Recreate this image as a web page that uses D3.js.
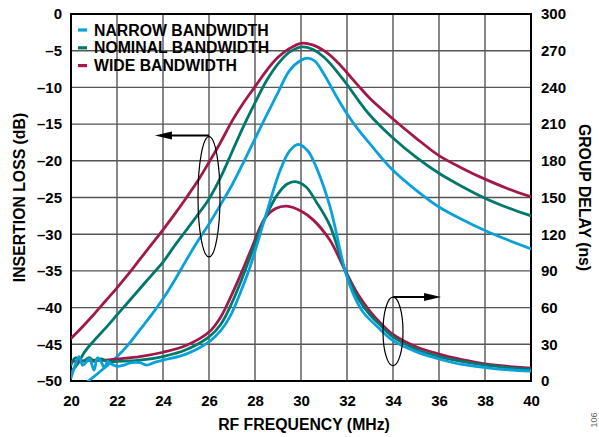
<!DOCTYPE html>
<html>
<head>
<meta charset="utf-8">
<script src="https://cdn.jsdelivr.net/npm/d3@7"></script>
<style>
  html, body { margin: 0; padding: 0; background: #fff; }
  svg text { font-family: "Liberation Sans", Arial, sans-serif; font-weight: bold; fill: #000; }
</style>
</head>
<body>
<svg id="chart" width="599" height="437"></svg>
<script>
// ---------- DATA ----------
const seriesNames = ["NARROW BANDWIDTH", "NOMINAL BANDWIDTH", "WIDE BANDWIDTH"];
const seriesColors = ["#0aa1da", "#00786b", "#a3184b"];

const xTicks = [20, 22, 24, 26, 28, 30, 32, 34, 36, 38, 40];
const yLeftTicks = [0, -5, -10, -15, -20, -25, -30, -35, -40, -45, -50];
const yRightTicks = [0, 30, 60, 90, 120, 150, 180, 210, 240, 270, 300];

// Insertion loss (dB) vs frequency (MHz)
const ilNarrow = [[20.75,-50],[21,-49.4],[21.5,-48.1],[22,-46.7],[22.5,-45.0],[23,-43.0],[23.5,-41.0],[24,-38.8],[24.5,-36.3],[25,-33.6],[25.5,-31.0],[26,-28.6],[26.5,-26.0],[27,-23.3],[27.5,-20.2],[28,-17.0],[28.5,-13.8],[29,-10.7],[29.5,-7.7],[30,-6.3],[30.3,-6.0],[30.6,-6.4],[31,-8.2],[31.5,-11.0],[32,-13.6],[32.5,-15.8],[33,-17.7],[34,-21.3],[35,-24.0],[36,-26.3],[37,-28.0],[38,-29.5],[39,-30.8],[40,-32.0]];
const ilNominal = [[20,-48.8],[20.3,-47.6],[20.6,-46.0],[21,-44.5],[21.5,-42.8],[22,-41.0],[22.5,-39.2],[23,-37.4],[23.5,-35.6],[24,-33.8],[24.5,-31.6],[25,-29.5],[25.5,-27.4],[26,-25.2],[26.5,-22.3],[27,-18.8],[27.5,-15.3],[28,-12.1],[28.5,-9.1],[29,-6.8],[29.5,-5.2],[30,-4.5],[30.5,-4.8],[31,-5.9],[31.5,-7.6],[32,-9.6],[32.5,-11.8],[33,-13.8],[34,-16.9],[35,-19.5],[36,-21.7],[37,-23.5],[38,-25.1],[39,-26.4],[40,-27.5]];
const ilWide = [[20,-44.2],[20.5,-42.6],[21,-40.9],[21.5,-39.1],[22,-37.3],[22.5,-35.4],[23,-33.4],[23.5,-31.4],[24,-29.4],[24.5,-27.3],[25,-25.1],[25.5,-22.8],[26,-20.2],[26.5,-17.5],[27,-14.6],[27.5,-12.1],[28,-9.9],[28.5,-7.7],[29,-5.9],[29.5,-4.7],[30,-4.0],[30.5,-4.2],[31,-5.0],[31.5,-6.3],[32,-8.0],[32.5,-9.8],[33,-11.5],[34,-14.3],[35,-16.9],[36,-19.3],[37,-21.0],[38,-22.5],[39,-23.8],[40,-24.9]];

// Group delay (ns) vs frequency (MHz)
const gdNarrow = [[20,2.5],[20.2,14],[20.35,20],[20.5,13],[20.6,14],[20.8,18],[21,9],[21.15,19],[21.3,16],[21.45,11],[21.6,16],[21.75,14],[22,12],[22.3,13],[22.6,15],[23,15],[23.3,13],[23.6,15],[24,17],[25,22],[26,32],[26.5,41],[26.91,52.6],[27.4,74],[27.78,93],[28.43,133],[29.09,172],[29.5,188],[29.88,193.5],[30.3,188],[30.68,174],[31.26,142.5],[31.91,90.7],[32.3,70],[32.71,56],[33.4,43],[34,33],[35,24],[36,18],[37,13.5],[38,11],[39,9.2],[40,8]];
const gdNominal = [[20,13],[20.2,19],[20.5,16],[20.8,19],[21,16],[21.3,18],[21.6,16],[22,16],[23,17],[24,20],[25,25.5],[26,36],[26.5,46],[26.9,60],[27.4,82],[27.8,102],[28.43,133],[29,153],[29.4,161],[29.74,163],[30.2,159],[30.68,146],[31.26,127],[31.91,90.7],[32.5,67],[33,54],[33.4,46.5],[34,36],[35,26],[36,20],[37,16],[38,13],[39,11],[40,9.5]];
const gdWide = [[20,16],[20.5,16.5],[21,17],[21.5,17],[22,18],[23,20],[24,23.5],[25,29],[26,40],[26.5,52],[26.9,67],[27.4,88],[27.8,106],[28.43,133],[28.9,141],[29.38,143],[30,139],[30.54,131.5],[31.26,115],[31.91,90.7],[32.5,70],[33,57],[33.4,48.5],[34,38],[35,28],[36,22],[37,17.5],[38,14],[39,12],[40,10.5]];

// ---------- LAYOUT ----------
const svg = d3.select("#chart");
const m = { left: 71, top: 14, right: 68, bottom: 56 };
const W = 599 - m.left - m.right;   // 460
const H = 437 - m.top - m.bottom;   // 367

const x = d3.scaleLinear().domain([20, 40]).range([0, W]);
const yL = d3.scaleLinear().domain([-50, 0]).range([H, 0]);
const yR = d3.scaleLinear().domain([0, 300]).range([H, 0]);

const g = svg.append("g").attr("transform", `translate(${m.left},${m.top})`);

// grid
const grid = g.append("g").attr("stroke", "#555").attr("stroke-width", 1.4);
grid.selectAll("line.v").data(xTicks).join("line")
  .attr("x1", d => x(d)).attr("x2", d => x(d)).attr("y1", 0).attr("y2", H);
grid.selectAll("line.h").data(yLeftTicks).join("line")
  .attr("y1", d => yL(d)).attr("y2", d => yL(d)).attr("x1", 0).attr("x2", W);

// frame
g.append("rect").attr("width", W).attr("height", H)
  .attr("fill", "none").attr("stroke", "#000").attr("stroke-width", 2);

const fmt = d => String(d).replace("-", "\u2013");
const fs = "15px";
const fsT = "15.8px";

const axL = g.append("g").call(d3.axisLeft(yL).tickValues(yLeftTicks).tickSize(0).tickPadding(9).tickFormat(fmt));
const axR = g.append("g").attr("transform", `translate(${W},0)`)
  .call(d3.axisRight(yR).tickValues(yRightTicks).tickSize(0).tickPadding(10));
const axB = g.append("g").attr("transform", `translate(0,${H})`)
  .call(d3.axisBottom(x).tickValues(xTicks).tickSize(0).tickPadding(14));
[axL, axR, axB].forEach(a => {
  a.select(".domain").remove();
  a.attr("font-family", null).attr("font-size", null);
  a.selectAll("text").attr("font-size", fs);
});

// titles
svg.append("text").attr("x", m.left + W / 2 + 3).attr("y", 430).attr("text-anchor", "middle")
  .attr("font-size", fsT).text("RF FREQUENCY (MHz)");
svg.append("text").attr("transform", `translate(25,${m.top + H / 2}) rotate(-90)`)
  .attr("text-anchor", "middle").attr("font-size", fsT).text("INSERTION LOSS (dB)");
svg.append("text").attr("transform", `translate(579,${m.top + H / 2}) rotate(90)`)
  .attr("text-anchor", "middle").attr("font-size", fsT).text("GROUP DELAY (ns)");
svg.append("text").attr("transform", "translate(597,420) rotate(-90)")
  .attr("text-anchor", "middle").attr("font-size", "9px")
  .style("font-weight", "normal").style("fill", "#666").text("106");

// clip
svg.append("defs").append("clipPath").attr("id", "clip")
  .append("rect").attr("width", W).attr("height", H);

const plot = g.append("g").attr("clip-path", "url(#clip)");
const curve = d3.curveCatmullRom.alpha(0.5);
const lineL = d3.line().x(d => x(d[0])).y(d => yL(d[1])).curve(curve);
const lineR = d3.line().x(d => x(d[0])).y(d => yR(d[1])).curve(curve);

const ilSeries = [ilNarrow, ilNominal, ilWide];
const gdSeries = [gdNarrow, gdNominal, gdWide];
const order = [2, 1, 0];
order.forEach(i => {
  plot.append("path").datum(ilSeries[i]).attr("d", lineL)
    .attr("fill", "none").attr("stroke", seriesColors[i]).attr("stroke-width", 2.8)
    .attr("stroke-linejoin", "round").attr("stroke-linecap", "round");
});
order.forEach(i => {
  plot.append("path").datum(gdSeries[i]).attr("d", lineR)
    .attr("fill", "none").attr("stroke", seriesColors[i]).attr("stroke-width", 2.8)
    .attr("stroke-linejoin", "round").attr("stroke-linecap", "round");
});

// annotations
const ann = g.append("g").attr("fill", "none").attr("stroke", "#000").attr("stroke-width", 1.2);
// left: ellipse around IL curves, arrow to left axis
ann.append("ellipse").attr("cx", x(26)).attr("cy", yL(-24.9))
  .attr("rx", 11).attr("ry", yL(-33.1) - yL(-24.9));
ann.append("line").attr("x1", x(26)).attr("x2", x(23.65) + 14)
  .attr("y1", yL(-16.55)).attr("y2", yL(-16.55)).attr("stroke-width", 2);
g.append("path").attr("fill", "#000")
  .attr("d", `M${x(23.65)},${yL(-16.55)} L${x(23.65) + 17},${yL(-16.55) - 4} L${x(23.65) + 17},${yL(-16.55) + 4} Z`);
// right: ellipse around GD curves, arrow to right axis
ann.append("ellipse").attr("cx", x(34)).attr("cy", yR(40.5))
  .attr("rx", 10).attr("ry", yR(12.5) - yR(40.5));
ann.append("line").attr("x1", x(34)).attr("x2", x(36.09) - 14)
  .attr("y1", yR(68.7)).attr("y2", yR(68.7)).attr("stroke-width", 2);
g.append("path").attr("fill", "#000")
  .attr("d", `M${x(36.09)},${yR(68.7)} L${x(36.09) - 17},${yR(68.7) - 4} L${x(36.09) - 17},${yR(68.7) + 4} Z`);

// legend
const leg = svg.append("g");
seriesNames.forEach((name, i) => {
  const yy = 30 + i * 17.8;
  leg.append("line").attr("x1", 78).attr("x2", 87).attr("y1", yy).attr("y2", yy)
    .attr("stroke", seriesColors[i]).attr("stroke-width", 3.2);
  leg.append("text").attr("x", 94).attr("y", yy + 5.5).attr("font-size", fsT).text(name);
});
</script>
</body>
</html>
